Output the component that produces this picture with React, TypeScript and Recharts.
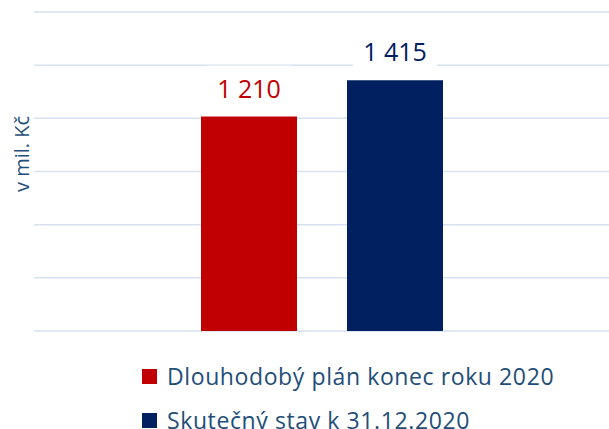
import React from "react";
import {
  BarChart,
  Bar,
  XAxis,
  YAxis,
  CartesianGrid,
  LabelList,
} from "recharts";

// values in mil. Kč
const categories = ["2020"];
const planValues = [1210];
const actualValues = [1415];
const yTicks = [0, 300, 600, 900, 1200, 1500, 1800];

const seriesNames = ["Dlouhodobý plán konec roku 2020", "Skutečný stav k 31.12.2020"];
const RED = "#C00000";
const NAVY = "#002060";
const TEXT = "#1F4E79";
const FONT = "'Open Sans', sans-serif";

const data = categories.map((c, i) => ({
  name: c,
  plan: planValues[i],
  actual: actualValues[i],
}));

function fmt(n: number): string {
  return String(n).replace(/\B(?=(\d{3})+(?!\d))/g, " ");
}

function makeLabel(color: string) {
  return function BoxLabel(props: any) {
    const { x, y, width, value } = props;
    const cx = x + width / 2;
    const cy = y - 29;
    return (
      <g>
        <rect x={cx - 42} y={cy - 22} width={84} height={44} fill="#fff" />
        <text
          x={cx}
          y={cy}
          textAnchor="middle"
          dominantBaseline="central"
          fill={color}
          fontSize={25}
          fontFamily={FONT}
        >
          {fmt(value)}
        </text>
      </g>
    );
  };
}

function AxisTitle(props: any) {
  const vb = props.viewBox;
  const cx = 21;
  const cy = vb.y + 142;
  return (
    <text
      x={cx}
      y={cy}
      transform={`rotate(-90 ${cx} ${cy})`}
      textAnchor="middle"
      dominantBaseline="central"
      fill={TEXT}
      fontSize={20}
      fontFamily={FONT}
    >
      v mil. Kč
    </text>
  );
}

function LegendBlock() {
  const colors = [RED, NAVY];
  return (
    <div
      style={{
        position: "absolute",
        left: 142,
        top: 354,
        fontFamily: FONT,
        fontSize: 23,
        letterSpacing: 0.6,
        color: TEXT,
        whiteSpace: "nowrap",
      }}
    >
      {seriesNames.map((s, i) => (
        <div
          key={s}
          style={{ display: "flex", alignItems: "center", height: 44, lineHeight: "44px" }}
        >
          <span
            style={{
              display: "inline-block",
              width: 15,
              height: 15,
              background: colors[i],
              marginRight: 10,
            }}
          />
          <span>{s}</span>
        </div>
      ))}
    </div>
  );
}

export default function App() {
  return (
    <div style={{ position: "absolute", left: 0, top: 0, width: 609, height: 429, overflow: "hidden", background: "#fff" }}>
      <BarChart
        width={609}
        height={429}
        data={data}
        margin={{ top: 12, right: 0, bottom: 98, left: 0 }}
        barGap={50}
        barSize={96}
      >
        <CartesianGrid vertical={false} stroke="#D6E1F1" strokeWidth={1.5} />
        <XAxis dataKey="name" hide />
        <YAxis
          width={34}
          domain={[0, 1800]}
          ticks={yTicks}
          interval={0}
          tick={() => <g />}
          tickLine={false}
          axisLine={false}
          label={<AxisTitle />}
        />
        <Bar dataKey="plan" fill={RED} isAnimationActive={false}>
          <LabelList dataKey="plan" content={makeLabel(RED)} />
        </Bar>
        <Bar dataKey="actual" fill={NAVY} isAnimationActive={false}>
          <LabelList dataKey="actual" content={makeLabel(NAVY)} />
        </Bar>
      </BarChart>
      <LegendBlock />
    </div>
  );
}
